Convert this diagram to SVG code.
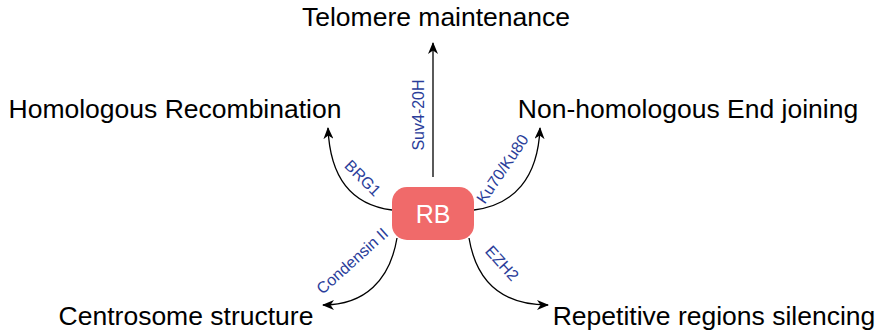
<svg xmlns="http://www.w3.org/2000/svg" width="883" height="333" viewBox="0 0 883 333">
<style>
.t{font-family:"Liberation Sans",Arial,sans-serif;font-size:26.5px;fill:#000}
.l{font-family:"Liberation Sans",Arial,sans-serif;font-size:16px;fill:#2a3d9a}
.c{fill:none;stroke:#000;stroke-width:1.3}
</style>
<defs>
<marker id="ah" viewBox="0 0 12 10" refX="11" refY="5" markerWidth="12" markerHeight="10" markerUnits="userSpaceOnUse" orient="auto">
<path d="M0,0 L12,5 L0,10 L3.5,5 z" fill="#000"/>
</marker>
</defs>
<rect width="883" height="333" fill="#fff"/>
<g id="connectors">
<path class="c" d="M433,177 L433,43" marker-end="url(#ah)"/>
<path class="c" d="M392,210 C352,205 330,178 328,128" marker-end="url(#ah)"/>
<path class="c" d="M474,210 C514,205 538,178 540,128" marker-end="url(#ah)"/>
<path class="c" d="M397,238 C390,280 365,305 323,305" marker-end="url(#ah)"/>
<path class="c" d="M469,238 C476,280 500,305 548,305" marker-end="url(#ah)"/>
<text class="l" text-anchor="middle" transform="translate(424,115) rotate(-90)">Suv4-20H</text>
<text class="l" text-anchor="middle" transform="translate(359,182) rotate(45)">BRG1</text>
<text class="l" text-anchor="middle" transform="translate(507,172) rotate(-56)">Ku70/Ku80</text>
<text class="l" text-anchor="middle" transform="translate(356,265) rotate(-42)">Condensin II</text>
<text class="l" text-anchor="middle" transform="translate(498,267) rotate(48)">EZH2</text>
</g>
<g id="rb">
<rect x="392" y="187" width="82" height="53" rx="15" fill="#f06a6a"/>
<text x="433" y="223" text-anchor="middle" style="font-family:'Liberation Sans',Arial,sans-serif;font-size:25px;fill:#fff">RB</text>
</g>
<g id="telomere"><text class="t" x="436" y="26" text-anchor="middle">Telomere maintenance</text></g>
<g id="hr"><text class="t" x="175" y="118" text-anchor="middle">Homologous Recombination</text></g>
<g id="nhej"><text class="t" x="688" y="118" text-anchor="middle">Non-homologous End joining</text></g>
<g id="centrosome"><text class="t" x="186" y="325" text-anchor="middle">Centrosome structure</text></g>
<g id="repetitive"><text class="t" x="714" y="325" text-anchor="middle">Repetitive regions silencing</text></g>
</svg>
